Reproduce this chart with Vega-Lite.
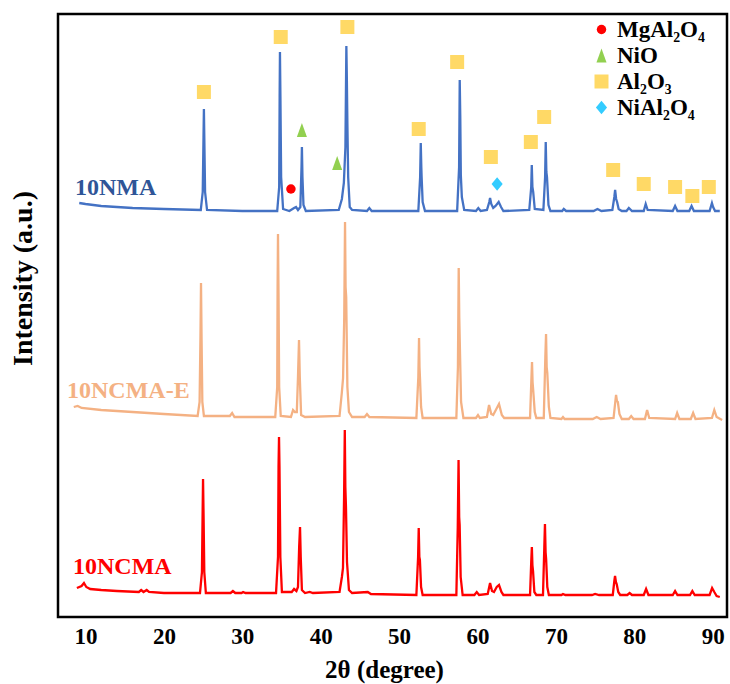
{
  "$schema": "https://vega.github.io/schema/vega-lite/v6.json",
  "width": 669,
  "height": 603,
  "autosize": {"type": "none"},
  "padding": {"left": 58, "top": 14, "right": 3, "bottom": 67},
  "background": "white",
  "config": {
    "font": "Liberation Serif",
    "view": {"stroke": "#000", "strokeWidth": 2.5},
    "legend": {
      "orient": "none",
      "legendX": 532,
      "legendY": 4,
      "padding": 0,
      "rowPadding": 2,
      "labelFont": "Liberation Serif",
      "labelFontWeight": "bold",
      "labelFontSize": 23,
      "labelColor": "#000",
      "labelOffset": 4,
      "symbolStrokeWidth": 0,
      "symbolOpacity": 1,
      "title": null
    }
  },
  "datasets": {
    "lines": [
      {"sample":"10NMA","t":9.2,"i":414},{"sample":"10NMA","t":10,"i":413},{"sample":"10NMA","t":12,"i":411},{"sample":"10NMA","t":14,"i":410},{"sample":"10NMA","t":16,"i":409},{"sample":"10NMA","t":20,"i":408},{"sample":"10NMA","t":24.7,"i":407},{"sample":"10NMA","t":24.95,"i":425},{"sample":"10NMA","t":25.05,"i":480},{"sample":"10NMA","t":25.1,"i":508},{"sample":"10NMA","t":25.15,"i":480},{"sample":"10NMA","t":25.25,"i":425},{"sample":"10NMA","t":25.5,"i":407},{"sample":"10NMA","t":30,"i":406},{"sample":"10NMA","t":34.45,"i":406},{"sample":"10NMA","t":34.7,"i":430},{"sample":"10NMA","t":34.76,"i":520},{"sample":"10NMA","t":34.8,"i":565},{"sample":"10NMA","t":34.86,"i":520},{"sample":"10NMA","t":34.95,"i":440},{"sample":"10NMA","t":35.2,"i":408},{"sample":"10NMA","t":36.0,"i":406},{"sample":"10NMA","t":36.6,"i":409},{"sample":"10NMA","t":36.85,"i":410},{"sample":"10NMA","t":37.1,"i":407},{"sample":"10NMA","t":37.4,"i":410},{"sample":"10NMA","t":37.55,"i":450},{"sample":"10NMA","t":37.6,"i":470},{"sample":"10NMA","t":37.67,"i":440},{"sample":"10NMA","t":37.8,"i":412},{"sample":"10NMA","t":38.1,"i":406},{"sample":"10NMA","t":42.3,"i":407},{"sample":"10NMA","t":42.7,"i":418},{"sample":"10NMA","t":42.95,"i":434},{"sample":"10NMA","t":43.15,"i":470},{"sample":"10NMA","t":43.27,"i":571},{"sample":"10NMA","t":43.33,"i":540},{"sample":"10NMA","t":43.4,"i":494},{"sample":"10NMA","t":43.5,"i":440},{"sample":"10NMA","t":43.7,"i":410},{"sample":"10NMA","t":44,"i":407},{"sample":"10NMA","t":45.9,"i":406},{"sample":"10NMA","t":46.2,"i":409},{"sample":"10NMA","t":46.5,"i":406},{"sample":"10NMA","t":52.45,"i":406},{"sample":"10NMA","t":52.68,"i":440},{"sample":"10NMA","t":52.76,"i":474},{"sample":"10NMA","t":52.83,"i":450},{"sample":"10NMA","t":52.87,"i":440},{"sample":"10NMA","t":53.0,"i":415},{"sample":"10NMA","t":53.3,"i":406},{"sample":"10NMA","t":57.4,"i":406},{"sample":"10NMA","t":57.65,"i":450},{"sample":"10NMA","t":57.73,"i":537},{"sample":"10NMA","t":57.8,"i":500},{"sample":"10NMA","t":57.87,"i":442},{"sample":"10NMA","t":58.0,"i":420},{"sample":"10NMA","t":58.3,"i":407},{"sample":"10NMA","t":59.8,"i":406},{"sample":"10NMA","t":60.1,"i":409},{"sample":"10NMA","t":60.4,"i":406},{"sample":"10NMA","t":61.2,"i":407},{"sample":"10NMA","t":61.5,"i":415},{"sample":"10NMA","t":61.6,"i":419},{"sample":"10NMA","t":61.75,"i":413},{"sample":"10NMA","t":62.0,"i":409},{"sample":"10NMA","t":62.3,"i":411},{"sample":"10NMA","t":62.7,"i":415},{"sample":"10NMA","t":63.0,"i":410},{"sample":"10NMA","t":63.3,"i":406},{"sample":"10NMA","t":66.6,"i":407},{"sample":"10NMA","t":66.85,"i":430},{"sample":"10NMA","t":66.92,"i":452},{"sample":"10NMA","t":67.0,"i":430},{"sample":"10NMA","t":67.1,"i":425},{"sample":"10NMA","t":67.3,"i":408},{"sample":"10NMA","t":68.4,"i":407},{"sample":"10NMA","t":68.62,"i":440},{"sample":"10NMA","t":68.7,"i":475},{"sample":"10NMA","t":68.78,"i":445},{"sample":"10NMA","t":68.86,"i":440},{"sample":"10NMA","t":69.05,"i":412},{"sample":"10NMA","t":69.3,"i":406},{"sample":"10NMA","t":70.8,"i":406},{"sample":"10NMA","t":71.0,"i":408},{"sample":"10NMA","t":71.3,"i":406},{"sample":"10NMA","t":74.8,"i":406},{"sample":"10NMA","t":75.3,"i":408},{"sample":"10NMA","t":75.8,"i":406},{"sample":"10NMA","t":77.2,"i":407},{"sample":"10NMA","t":77.45,"i":420},{"sample":"10NMA","t":77.55,"i":427},{"sample":"10NMA","t":77.68,"i":418},{"sample":"10NMA","t":77.8,"i":415},{"sample":"10NMA","t":78.0,"i":408},{"sample":"10NMA","t":78.4,"i":406},{"sample":"10NMA","t":79.0,"i":406},{"sample":"10NMA","t":79.3,"i":409},{"sample":"10NMA","t":79.7,"i":406},{"sample":"10NMA","t":81.2,"i":406},{"sample":"10NMA","t":81.45,"i":413},{"sample":"10NMA","t":81.7,"i":407},{"sample":"10NMA","t":84.9,"i":406},{"sample":"10NMA","t":85.2,"i":411},{"sample":"10NMA","t":85.5,"i":406},{"sample":"10NMA","t":87.0,"i":406},{"sample":"10NMA","t":87.3,"i":411},{"sample":"10NMA","t":87.6,"i":406},{"sample":"10NMA","t":89.6,"i":406},{"sample":"10NMA","t":89.9,"i":414},{"sample":"10NMA","t":90.05,"i":410},{"sample":"10NMA","t":90.3,"i":406},{"sample":"10NMA","t":90.9,"i":406},

      {"sample":"10NCMA-E","t":8.5,"i":210},{"sample":"10NCMA-E","t":9.0,"i":211},{"sample":"10NCMA-E","t":9.5,"i":209},{"sample":"10NCMA-E","t":12,"i":207},{"sample":"10NCMA-E","t":16,"i":205},{"sample":"10NCMA-E","t":20,"i":203},{"sample":"10NCMA-E","t":24.3,"i":201},{"sample":"10NCMA-E","t":24.55,"i":215},{"sample":"10NCMA-E","t":24.66,"i":280},{"sample":"10NCMA-E","t":24.73,"i":334},{"sample":"10NCMA-E","t":24.8,"i":280},{"sample":"10NCMA-E","t":24.9,"i":215},{"sample":"10NCMA-E","t":25.1,"i":201},{"sample":"10NCMA-E","t":28.4,"i":201},{"sample":"10NCMA-E","t":28.7,"i":204},{"sample":"10NCMA-E","t":29.0,"i":200},{"sample":"10NCMA-E","t":34.2,"i":200},{"sample":"10NCMA-E","t":34.45,"i":230},{"sample":"10NCMA-E","t":34.5,"i":330},{"sample":"10NCMA-E","t":34.55,"i":383},{"sample":"10NCMA-E","t":34.62,"i":320},{"sample":"10NCMA-E","t":34.7,"i":230},{"sample":"10NCMA-E","t":34.9,"i":201},{"sample":"10NCMA-E","t":36.2,"i":200},{"sample":"10NCMA-E","t":36.47,"i":207},{"sample":"10NCMA-E","t":36.7,"i":205},{"sample":"10NCMA-E","t":36.95,"i":205},{"sample":"10NCMA-E","t":37.1,"i":240},{"sample":"10NCMA-E","t":37.23,"i":277},{"sample":"10NCMA-E","t":37.33,"i":240},{"sample":"10NCMA-E","t":37.5,"i":202},{"sample":"10NCMA-E","t":38,"i":200},{"sample":"10NCMA-E","t":42.4,"i":201},{"sample":"10NCMA-E","t":42.7,"i":225},{"sample":"10NCMA-E","t":42.85,"i":239},{"sample":"10NCMA-E","t":43.0,"i":300},{"sample":"10NCMA-E","t":43.1,"i":395},{"sample":"10NCMA-E","t":43.17,"i":330},{"sample":"10NCMA-E","t":43.25,"i":320},{"sample":"10NCMA-E","t":43.4,"i":230},{"sample":"10NCMA-E","t":43.6,"i":205},{"sample":"10NCMA-E","t":44,"i":200},{"sample":"10NCMA-E","t":45.6,"i":200},{"sample":"10NCMA-E","t":45.9,"i":203},{"sample":"10NCMA-E","t":46.2,"i":200},{"sample":"10NCMA-E","t":52.2,"i":199},{"sample":"10NCMA-E","t":52.45,"i":240},{"sample":"10NCMA-E","t":52.54,"i":279},{"sample":"10NCMA-E","t":52.6,"i":250},{"sample":"10NCMA-E","t":52.66,"i":239},{"sample":"10NCMA-E","t":52.8,"i":210},{"sample":"10NCMA-E","t":53.0,"i":199},{"sample":"10NCMA-E","t":57.3,"i":199},{"sample":"10NCMA-E","t":57.5,"i":250},{"sample":"10NCMA-E","t":57.6,"i":349},{"sample":"10NCMA-E","t":57.67,"i":300},{"sample":"10NCMA-E","t":57.73,"i":277},{"sample":"10NCMA-E","t":57.9,"i":215},{"sample":"10NCMA-E","t":58.2,"i":199},{"sample":"10NCMA-E","t":59.8,"i":199},{"sample":"10NCMA-E","t":60.06,"i":202},{"sample":"10NCMA-E","t":60.3,"i":199},{"sample":"10NCMA-E","t":61.2,"i":200},{"sample":"10NCMA-E","t":61.47,"i":212},{"sample":"10NCMA-E","t":61.75,"i":203},{"sample":"10NCMA-E","t":62.0,"i":202},{"sample":"10NCMA-E","t":62.4,"i":208},{"sample":"10NCMA-E","t":62.74,"i":213},{"sample":"10NCMA-E","t":63.1,"i":202},{"sample":"10NCMA-E","t":63.4,"i":199},{"sample":"10NCMA-E","t":66.7,"i":199},{"sample":"10NCMA-E","t":66.88,"i":240},{"sample":"10NCMA-E","t":66.95,"i":255},{"sample":"10NCMA-E","t":67.02,"i":235},{"sample":"10NCMA-E","t":67.1,"i":227},{"sample":"10NCMA-E","t":67.3,"i":205},{"sample":"10NCMA-E","t":67.5,"i":199},{"sample":"10NCMA-E","t":68.45,"i":199},{"sample":"10NCMA-E","t":68.65,"i":260},{"sample":"10NCMA-E","t":68.74,"i":283},{"sample":"10NCMA-E","t":68.82,"i":250},{"sample":"10NCMA-E","t":68.9,"i":244},{"sample":"10NCMA-E","t":69.1,"i":210},{"sample":"10NCMA-E","t":69.3,"i":199},{"sample":"10NCMA-E","t":70.7,"i":198},{"sample":"10NCMA-E","t":70.9,"i":200},{"sample":"10NCMA-E","t":71.1,"i":198},{"sample":"10NCMA-E","t":74.7,"i":198},{"sample":"10NCMA-E","t":75.2,"i":200},{"sample":"10NCMA-E","t":75.7,"i":198},{"sample":"10NCMA-E","t":77.35,"i":199},{"sample":"10NCMA-E","t":77.57,"i":215},{"sample":"10NCMA-E","t":77.67,"i":222},{"sample":"10NCMA-E","t":77.78,"i":216},{"sample":"10NCMA-E","t":77.9,"i":215},{"sample":"10NCMA-E","t":78.1,"i":203},{"sample":"10NCMA-E","t":78.4,"i":198},{"sample":"10NCMA-E","t":79.3,"i":198},{"sample":"10NCMA-E","t":79.6,"i":201},{"sample":"10NCMA-E","t":79.9,"i":198},{"sample":"10NCMA-E","t":81.35,"i":198},{"sample":"10NCMA-E","t":81.63,"i":207},{"sample":"10NCMA-E","t":81.9,"i":199},{"sample":"10NCMA-E","t":85.2,"i":198},{"sample":"10NCMA-E","t":85.46,"i":204},{"sample":"10NCMA-E","t":85.75,"i":198},{"sample":"10NCMA-E","t":87.2,"i":198},{"sample":"10NCMA-E","t":87.5,"i":204},{"sample":"10NCMA-E","t":87.8,"i":198},{"sample":"10NCMA-E","t":89.9,"i":199},{"sample":"10NCMA-E","t":90.2,"i":207},{"sample":"10NCMA-E","t":90.5,"i":200},{"sample":"10NCMA-E","t":91.2,"i":197},

      {"sample":"10NCMA","t":8.9,"i":29},{"sample":"10NCMA","t":9.5,"i":31},{"sample":"10NCMA","t":9.8,"i":34},{"sample":"10NCMA","t":10.1,"i":30},{"sample":"10NCMA","t":10.6,"i":28},{"sample":"10NCMA","t":12,"i":27},{"sample":"10NCMA","t":14,"i":26},{"sample":"10NCMA","t":16.8,"i":25},{"sample":"10NCMA","t":17.1,"i":27},{"sample":"10NCMA","t":17.4,"i":25},{"sample":"10NCMA","t":17.8,"i":27},{"sample":"10NCMA","t":18.1,"i":25},{"sample":"10NCMA","t":20,"i":24},{"sample":"10NCMA","t":24.6,"i":24},{"sample":"10NCMA","t":24.85,"i":45},{"sample":"10NCMA","t":24.93,"i":100},{"sample":"10NCMA","t":24.99,"i":138},{"sample":"10NCMA","t":25.06,"i":100},{"sample":"10NCMA","t":25.15,"i":45},{"sample":"10NCMA","t":25.35,"i":24},{"sample":"10NCMA","t":28.5,"i":24},{"sample":"10NCMA","t":28.8,"i":26},{"sample":"10NCMA","t":29.1,"i":24},{"sample":"10NCMA","t":29.9,"i":24},{"sample":"10NCMA","t":30.1,"i":25},{"sample":"10NCMA","t":30.4,"i":24},{"sample":"10NCMA","t":34.3,"i":24},{"sample":"10NCMA","t":34.55,"i":60},{"sample":"10NCMA","t":34.62,"i":150},{"sample":"10NCMA","t":34.68,"i":180},{"sample":"10NCMA","t":34.74,"i":150},{"sample":"10NCMA","t":34.85,"i":60},{"sample":"10NCMA","t":35.05,"i":25},{"sample":"10NCMA","t":36.3,"i":25},{"sample":"10NCMA","t":36.6,"i":28},{"sample":"10NCMA","t":36.9,"i":26},{"sample":"10NCMA","t":37.1,"i":30},{"sample":"10NCMA","t":37.25,"i":70},{"sample":"10NCMA","t":37.36,"i":90},{"sample":"10NCMA","t":37.45,"i":60},{"sample":"10NCMA","t":37.6,"i":27},{"sample":"10NCMA","t":38.0,"i":24},{"sample":"10NCMA","t":38.6,"i":25},{"sample":"10NCMA","t":39.0,"i":24},{"sample":"10NCMA","t":42.4,"i":25},{"sample":"10NCMA","t":42.7,"i":40},{"sample":"10NCMA","t":42.84,"i":49},{"sample":"10NCMA","t":42.98,"i":120},{"sample":"10NCMA","t":43.07,"i":187},{"sample":"10NCMA","t":43.14,"i":130},{"sample":"10NCMA","t":43.22,"i":110},{"sample":"10NCMA","t":43.35,"i":55},{"sample":"10NCMA","t":43.6,"i":27},{"sample":"10NCMA","t":44,"i":24},{"sample":"10NCMA","t":46.0,"i":25},{"sample":"10NCMA","t":46.4,"i":23},{"sample":"10NCMA","t":52.2,"i":22},{"sample":"10NCMA","t":52.42,"i":60},{"sample":"10NCMA","t":52.5,"i":89},{"sample":"10NCMA","t":52.58,"i":60},{"sample":"10NCMA","t":52.65,"i":57},{"sample":"10NCMA","t":52.8,"i":30},{"sample":"10NCMA","t":53.0,"i":22},{"sample":"10NCMA","t":57.3,"i":22},{"sample":"10NCMA","t":57.48,"i":90},{"sample":"10NCMA","t":57.58,"i":157},{"sample":"10NCMA","t":57.66,"i":100},{"sample":"10NCMA","t":57.72,"i":92},{"sample":"10NCMA","t":57.85,"i":40},{"sample":"10NCMA","t":58.1,"i":22},{"sample":"10NCMA","t":59.6,"i":22},{"sample":"10NCMA","t":59.9,"i":25},{"sample":"10NCMA","t":60.2,"i":22},{"sample":"10NCMA","t":61.3,"i":23},{"sample":"10NCMA","t":61.6,"i":34},{"sample":"10NCMA","t":61.85,"i":26},{"sample":"10NCMA","t":62.1,"i":25},{"sample":"10NCMA","t":62.45,"i":30},{"sample":"10NCMA","t":62.74,"i":32},{"sample":"10NCMA","t":63.05,"i":25},{"sample":"10NCMA","t":63.3,"i":22},{"sample":"10NCMA","t":66.7,"i":22},{"sample":"10NCMA","t":66.85,"i":55},{"sample":"10NCMA","t":66.93,"i":70},{"sample":"10NCMA","t":67.0,"i":52},{"sample":"10NCMA","t":67.08,"i":46},{"sample":"10NCMA","t":67.25,"i":25},{"sample":"10NCMA","t":67.5,"i":22},{"sample":"10NCMA","t":68.35,"i":22},{"sample":"10NCMA","t":68.52,"i":70},{"sample":"10NCMA","t":68.6,"i":93},{"sample":"10NCMA","t":68.68,"i":65},{"sample":"10NCMA","t":68.75,"i":58},{"sample":"10NCMA","t":68.9,"i":30},{"sample":"10NCMA","t":69.1,"i":22},{"sample":"10NCMA","t":70.7,"i":22},{"sample":"10NCMA","t":70.9,"i":23},{"sample":"10NCMA","t":71.2,"i":22},{"sample":"10NCMA","t":74.6,"i":22},{"sample":"10NCMA","t":75.0,"i":23},{"sample":"10NCMA","t":75.5,"i":22},{"sample":"10NCMA","t":77.25,"i":22},{"sample":"10NCMA","t":77.45,"i":36},{"sample":"10NCMA","t":77.54,"i":41},{"sample":"10NCMA","t":77.65,"i":35},{"sample":"10NCMA","t":77.75,"i":33},{"sample":"10NCMA","t":77.95,"i":25},{"sample":"10NCMA","t":78.2,"i":22},{"sample":"10NCMA","t":79.1,"i":22},{"sample":"10NCMA","t":79.4,"i":24},{"sample":"10NCMA","t":79.7,"i":22},{"sample":"10NCMA","t":81.2,"i":22},{"sample":"10NCMA","t":81.5,"i":28},{"sample":"10NCMA","t":81.8,"i":22},{"sample":"10NCMA","t":84.9,"i":22},{"sample":"10NCMA","t":85.2,"i":26},{"sample":"10NCMA","t":85.5,"i":22},{"sample":"10NCMA","t":87.1,"i":22},{"sample":"10NCMA","t":87.4,"i":26},{"sample":"10NCMA","t":87.7,"i":22},{"sample":"10NCMA","t":89.6,"i":22},{"sample":"10NCMA","t":89.92,"i":29},{"sample":"10NCMA","t":90.2,"i":25},{"sample":"10NCMA","t":90.5,"i":21},{"sample":"10NCMA","t":90.9,"i":20}
    ],
    "markers": [
      {"phase":"Al₂O₃","t":25.1,"i":525},{"phase":"Al₂O₃","t":34.9,"i":580},{"phase":"Al₂O₃","t":43.4,"i":590},{"phase":"Al₂O₃","t":52.5,"i":488},{"phase":"Al₂O₃","t":57.4,"i":555},{"phase":"Al₂O₃","t":61.7,"i":460},{"phase":"Al₂O₃","t":66.8,"i":475},{"phase":"Al₂O₃","t":68.5,"i":500},{"phase":"Al₂O₃","t":77.3,"i":447},{"phase":"Al₂O₃","t":81.2,"i":433},{"phase":"Al₂O₃","t":85.2,"i":430},{"phase":"Al₂O₃","t":87.4,"i":421},{"phase":"Al₂O₃","t":89.5,"i":430},
      {"phase":"NiO","t":37.6,"i":487},{"phase":"NiO","t":42.1,"i":454},
      {"phase":"MgAl₂O₄","t":36.2,"i":428},
      {"phase":"NiAl₂O₄","t":62.5,"i":433}
    ],
    "labels": [
      {"sample":"10NMA","t":8.66,"i":422},
      {"sample":"10NCMA-E","t":7.64,"i":219},
      {"sample":"10NCMA","t":8.4,"i":43}
    ]
  },
  "resolve": {"scale": {"color": "independent", "shape": "independent", "size": "independent"}},
  "layer": [
    {
      "data": {"name": "lines"},
      "mark": {"type": "line", "strokeWidth": 2.3},
      "encoding": {
        "x": {
          "field": "t", "type": "quantitative",
          "scale": {"domain": [6.49, 91.82], "nice": false, "zero": false},
          "axis": {
            "title": "2θ (degree)",
            "values": [10, 20, 30, 40, 50, 60, 70, 80, 90],
            "ticks": false, "domain": false, "grid": false,
            "labelFont": "Liberation Serif", "labelFontWeight": "bold", "labelFontSize": 23, "labelColor": "#000",
            "labelPadding": 8,
            "titleFont": "Liberation Serif", "titleFontWeight": "bold", "titleFontSize": 25, "titleColor": "#000",
            "titlePadding": 9, "titleX": 326
          }
        },
        "y": {
          "field": "i", "type": "quantitative",
          "scale": {"domain": [0, 603], "nice": false, "zero": false},
          "axis": {
            "title": "Intensity (a.u.)",
            "labels": false, "ticks": false, "domain": false, "grid": false,
            "titleFont": "Liberation Serif", "titleFontWeight": "bold", "titleFontSize": 28, "titleColor": "#000",
            "titleX": -35, "titleY": 264, "titleAngle": -90, "titleAlign": "center", "titleBaseline": "middle"
          }
        },
        "color": {
          "field": "sample", "type": "nominal",
          "scale": {"domain": ["10NMA", "10NCMA-E", "10NCMA"], "range": ["#4472C4", "#F4B183", "#FF0000"]},
          "legend": null
        }
      }
    },
    {
      "data": {"name": "markers"},
      "mark": {"type": "point", "filled": true, "opacity": 1, "strokeWidth": 0},
      "encoding": {
        "x": {"field": "t", "type": "quantitative"},
        "y": {"field": "i", "type": "quantitative"},
        "color": {
          "field": "phase", "type": "nominal",
          "scale": {"domain": ["MgAl₂O₄", "NiO", "Al₂O₃", "NiAl₂O₄"], "range": ["#FF0000", "#92D050", "#FFD966", "#33CCFF"]},
          "legend": {"title": null, "orient": "none", "legendX": 532, "legendY": 4, "labelFontSize": 23}
        },
        "shape": {
          "field": "phase", "type": "nominal",
          "scale": {"domain": ["MgAl₂O₄", "NiO", "Al₂O₃", "NiAl₂O₄"], "range": ["circle", "M-0.72,1L0,-1L0.72,1Z", "square", "M-0.83,0L0,-1L0.83,0L0,1Z"]},
          "legend": {"title": null, "orient": "none", "legendX": 532, "legendY": 4, "labelFontSize": 23}
        },
        "size": {
          "field": "phase", "type": "nominal",
          "scale": {"type": "ordinal", "domain": ["MgAl₂O₄", "NiO", "Al₂O₃", "NiAl₂O₄"], "range": [90, 196, 196, 180]},
          "legend": {"title": null, "orient": "none", "legendX": 532, "legendY": 4, "labelFontSize": 23}
        }
      }
    },
    {
      "data": {"name": "labels"},
      "mark": {"type": "text", "font": "Liberation Serif", "fontWeight": "bold", "fontSize": 24, "align": "left", "baseline": "alphabetic"},
      "encoding": {
        "x": {"field": "t", "type": "quantitative"},
        "y": {"field": "i", "type": "quantitative"},
        "text": {"field": "sample", "type": "nominal"},
        "color": {
          "field": "sample", "type": "nominal",
          "scale": {"domain": ["10NMA", "10NCMA-E", "10NCMA"], "range": ["#2F5597", "#F4B183", "#FF0000"]},
          "legend": null
        }
      }
    }
  ]
}
